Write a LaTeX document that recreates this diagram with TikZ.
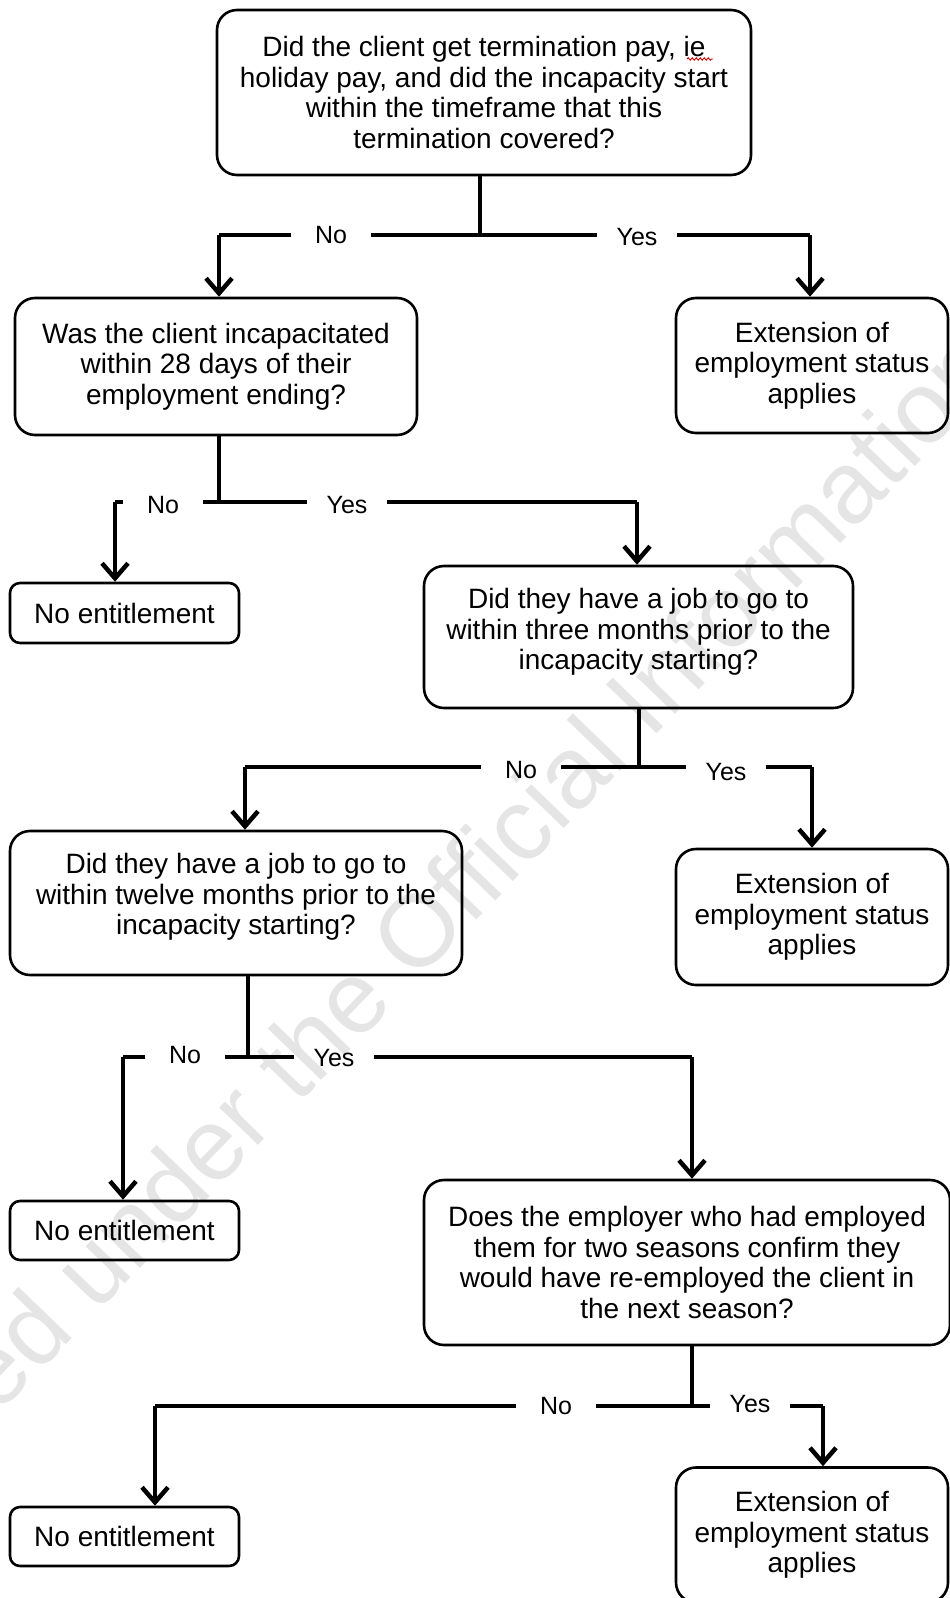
\documentclass[tikz,border=0pt]{standalone}
\usepackage{fontspec}
\setmainfont{Liberation Sans}
\usetikzlibrary{arrows.meta,decorations.pathmorphing}
\begin{document}
\begin{tikzpicture}[x=1pt,y=-1pt,
  box/.style={draw, line width=2.6pt, rounded corners=20pt, align=center,
    font=\fontsize{28}{30.5}\selectfont, inner sep=0pt},
  smallbox/.style={draw, line width=2.6pt, rounded corners=10pt, align=center,
    font=\fontsize{28}{30.5}\selectfont, inner sep=0pt},
  txt/.style={align=center, font=\fontsize{28}{30.5}\selectfont, inner sep=0pt},
  conn/.style={line width=4.5pt},
  arr/.style={line width=4.5pt, -{Straight Barb[length=15pt,width=26pt]}},
  lbl/.style={fill=white, inner sep=0pt, minimum width=80pt, minimum height=34pt,
    font=\fontsize{25}{28}\selectfont},
]
\useasboundingbox (0,0) rectangle (950,1598);

% boxes
\node[box, minimum width=534pt, minimum height=165pt] (q1) at (484,92.5)
  {Did the client get termination pay, ie\\holiday pay, and did the incapacity start\\within the timeframe that this\\termination covered?};
\node[box, minimum width=402pt, minimum height=137pt] (q2) at (216,366.5)
  {Was the client incapacitated\\within 28 days of their\\employment ending?};
\node[box, minimum width=272pt, minimum height=135pt] (e1) at (812,365.5)
  {Extension of\\employment status\\applies};
\node[smallbox, minimum width=229pt, minimum height=60pt] (n1) at (124.5,613)
  {No entitlement};
\node[box, minimum width=429pt, minimum height=142pt] (q3) at (638.5,637) {};
\node[txt] (q3t) at ([yshift=5pt]q3.center)
  {Did they have a job to go to\\within three months prior to the\\incapacity starting?};
\node[box, minimum width=452pt, minimum height=144pt] (q4) at (236,903) {};
\node[txt] (q4t) at ([yshift=6pt]q4.center)
  {Did they have a job to go to\\within twelve months prior to the\\incapacity starting?};
\node[box, minimum width=272pt, minimum height=136pt] (e2) at (812,917)
  {Extension of\\employment status\\applies};
\node[smallbox, minimum width=229pt, minimum height=59pt] (n2) at (124.5,1230.5)
  {No entitlement};
\node[box, minimum width=526pt, minimum height=165pt] (q5) at (687,1262.5)
  {Does the employer who had employed\\them for two seasons confirm they\\would have re-employed the client in\\the next season?};
\node[smallbox, minimum width=229pt, minimum height=59pt] (n3) at (124.5,1536.5)
  {No entitlement};
\node[box, minimum width=272pt, minimum height=135pt] (e3) at (812,1535)
  {Extension of\\employment status\\applies};

% spell-check squiggle under "ie"
\coordinate (sq1) at (687,59);
\coordinate (sq2) at (713,59);
\draw[red!80!black, line width=0.9pt, decorate, decoration={snake, amplitude=1.2pt, segment length=4pt}] (sq1) -- (sq2);

% level 1
\coordinate (j1) at (480,235);
\coordinate (l1) at (219,235);
\coordinate (r1) at (810,235);
\draw[conn] (j1 |- q1.south) -- (j1);
\draw[conn] (l1) -- (r1);
\draw[arr] (l1) -- (l1 |- q2.north);
\draw[arr] (r1) -- (r1 |- e1.north);
\node[lbl] (no1) at (331,235) {No};
\node[lbl] (yes1) at (637,237) {Yes};

% level 2
\coordinate (j2) at (219,502);
\coordinate (l2) at (115,502);
\coordinate (r2) at (637,502);
\draw[conn] (j2 |- q2.south) -- (j2);
\draw[conn] (l2) -- (r2);
\draw[arr] (l2) -- (l2 |- n1.north);
\draw[arr] (r2) -- (r2 |- q3.north);
\node[lbl] (no2) at (163,505) {No};
\node[lbl] (yes2) at (347,505) {Yes};

% level 3
\coordinate (j3) at (639,767);
\coordinate (l3) at (245,767);
\coordinate (r3) at (812,767);
\draw[conn] (j3 |- q3.south) -- (j3);
\draw[conn] (l3) -- (r3);
\draw[arr] (l3) -- (l3 |- q4.north);
\draw[arr] (r3) -- (r3 |- e2.north);
\node[lbl] (no3) at (521,770) {No};
\node[lbl] (yes3) at (726,772) {Yes};

% level 4
\coordinate (j4) at (248,1057);
\coordinate (l4) at (123,1057);
\coordinate (r4) at (692,1057);
\draw[conn] (j4 |- q4.south) -- (j4);
\draw[conn] (l4) -- (r4);
\draw[arr] (l4) -- (l4 |- n2.north);
\draw[arr] (r4) -- (r4 |- q5.north);
\node[lbl] (no4) at (185,1055) {No};
\node[lbl] (yes4) at (334,1058) {Yes};

% level 5
\coordinate (j5) at (692,1406);
\coordinate (l5) at (155,1406);
\coordinate (r5) at (823,1406);
\draw[conn] (j5 |- q5.south) -- (j5);
\draw[conn] (l5) -- (r5);
\draw[arr] (l5) -- (l5 |- n3.north);
\draw[arr] (r5) -- (r5 |- e3.north);
\node[lbl] (no5) at (556,1406) {No};
\node[lbl] (yes5) at (750,1404) {Yes};

% watermark
\node[rotate=46, font=\fontsize{102}{110}\selectfont, text=black, opacity=0.1] (wm) at (426,920)
  {Released under the Official Information Act};
\end{tikzpicture}
\end{document}
